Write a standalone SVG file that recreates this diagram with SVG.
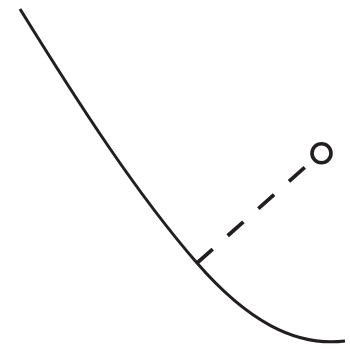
<svg xmlns="http://www.w3.org/2000/svg" width="350" height="349" viewBox="0 0 350 349">
<style>
.curve{fill:none;stroke:#231f20;stroke-width:3}
.dash{fill:none;stroke:#231f20;stroke-width:3.8;stroke-dasharray:21 20}
.pt{fill:#fff;stroke:#231f20;stroke-width:3.6}
</style>
<rect width="350" height="349" fill="#fff"/>
<g id="connectors">
<path class="curve" d="M20,9 C80,106 137,194 197,263 C247,320.5 295,347 345,341"/>
<line class="dash" x1="197" y1="263" x2="312" y2="161"/>
</g>
<g id="point">
<circle class="pt" cx="321.5" cy="153.3" r="9.5"/>
</g>
</svg>
